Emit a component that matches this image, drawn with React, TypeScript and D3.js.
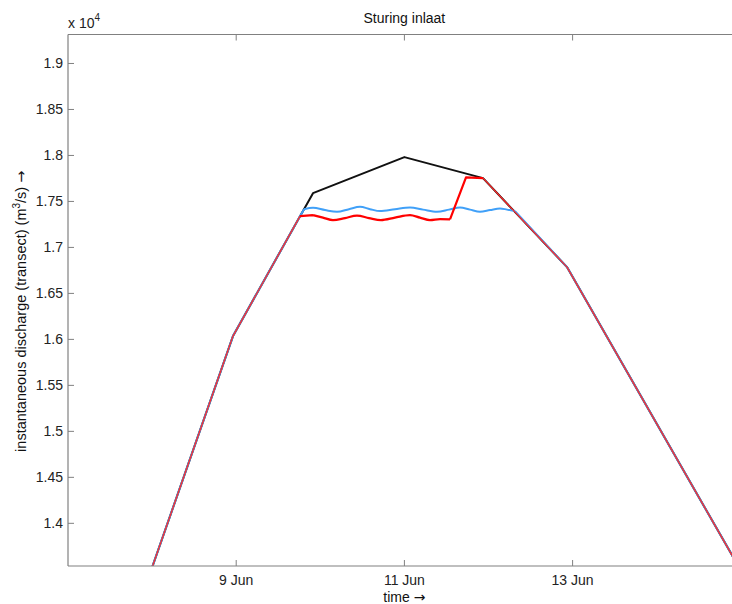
import React from "react";
import * as d3 from "d3";

// Sturing inlaat - discharge through transect
const parseTime = d3.timeParse("%Y-%m-%d %H:%M");

// shared rising limb (all three runs)
const riseTimes = ["2008-06-08 00:00", "2008-06-08 23:05", "2008-06-09 18:13"];
const riseValues = [13520, 16036, 17340];

// shared falling limb
const fallTimes = ["2008-06-11 22:26", "2008-06-12 22:24", "2008-06-14 21:29", "2008-06-15 00:00"];
const fallValues = [17753, 16786, 13655, 13471];

// black run (no control)
const blackTimes = ["2008-06-09 19:21", "2008-06-09 21:55", "2008-06-11 00:00"];
const blackValues = [17416, 17590, 17982];

// blue run
const blueTimes = [
  "2008-06-09 19:21", "2008-06-09 21:55", "2008-06-10 01:20", "2008-06-10 04:46", "2008-06-10 08:11",
  "2008-06-10 11:20", "2008-06-10 14:11", "2008-06-10 17:02", "2008-06-10 21:19", "2008-06-11 01:36",
  "2008-06-11 05:19", "2008-06-11 09:18", "2008-06-11 12:44", "2008-06-11 15:52", "2008-06-11 18:43",
  "2008-06-11 21:34", "2008-06-12 00:26", "2008-06-12 03:17", "2008-06-12 05:17", "2008-06-12 07:34",
];
const blueValues = [
  17416, 17431, 17406, 17387, 17416,
  17441, 17416, 17395, 17416, 17435,
  17411, 17387, 17411, 17435, 17411,
  17387, 17406, 17424, 17411, 17395,
];

// red run: wavy part, then step up
const redTimes = [
  "2008-06-09 21:55", "2008-06-10 00:46", "2008-06-10 03:37", "2008-06-10 07:03", "2008-06-10 10:28",
  "2008-06-10 13:54", "2008-06-10 17:19", "2008-06-10 21:19", "2008-06-11 01:36", "2008-06-11 04:27",
  "2008-06-11 07:18", "2008-06-11 10:10", "2008-06-11 13:01",
];
const redValues = [
  17351, 17324, 17297, 17319, 17346,
  17319, 17297, 17324, 17351, 17324,
  17297, 17308, 17304,
];
const redStepTimes = ["2008-06-11 17:35"];
const redStepValues = [17761];

const xTicks = ["2008-06-09 00:00", "2008-06-11 00:00", "2008-06-13 00:00"];
const yTicks = [14000, 14500, 15000, 15500, 16000, 16500, 17000, 17500, 18000, 18500, 19000];

type Pt = { t: Date; v: number };
const pts = (times: string[], values: number[]): Pt[] =>
  times.map((s, i) => ({ t: parseTime(s) as Date, v: values[i] }));

const rise = pts(riseTimes, riseValues);
const fall = pts(fallTimes, fallValues);
const riseEnd = rise[rise.length - 1];

const black = pts(blackTimes, blackValues);
const blue = pts(blueTimes, blueValues);
const redWave = pts(redTimes, redValues);
const redStep = pts(redStepTimes, redStepValues);

const App = () => {
  const W = 732;
  const H = 604;
  const left = 68;
  const top = 34.5;
  const bottom = 566;
  const right = 68 + 8 * 84.1;

  const x = d3
    .scaleTime()
    .domain([parseTime("2008-06-07 00:00") as Date, parseTime("2008-06-15 00:00") as Date])
    .range([left, right]);
  const y = d3.scaleLinear().domain([13536, 19315]).range([bottom, top]);

  const lin = d3
    .line<Pt>()
    .x((d) => x(d.t))
    .y((d) => y(d.v));
  const smooth = d3
    .line<Pt>()
    .x((d) => x(d.t))
    .y((d) => y(d.v))
    .curve(d3.curveMonotoneX);

  const font = "'Liberation Sans', Arial, Helvetica, sans-serif";
  const arrowFont = "'DejaVu Sans', sans-serif";
  const axisColor = "#808080";
  const fmt = d3.timeFormat("%-d %b");

  const blackD = lin([...rise, ...black, ...fall]) || "";
  const blueD =
    (lin([...rise, blue[0]]) || "") +
    (smooth(blue) || "") +
    (lin([blue[blue.length - 1], ...fall.slice(1)]) || "");
  const redWaveD = (lin([riseEnd, redWave[0]]) || "") + (smooth(redWave) || "");
  const redStepD = lin([redWave[redWave.length - 1], ...redStep, fall[0]]) || "";
  const redLimbs = (lin(rise) || "") + (lin(fall) || "");

  return (
    <svg
      width={W}
      height={H}
      style={{ position: "absolute", left: 0, top: 0, display: "block", background: "#fff" }}
      fontFamily={font}
    >
      <defs>
        <clipPath id="plot">
          <rect x={left} y={top} width={right - left} height={bottom - top} />
        </clipPath>
      </defs>

      <g clipPath="url(#plot)" fill="none" strokeLinejoin="round">
        <path d={blackD} stroke="#111" strokeWidth={2} />
        <path d={blueD} stroke="#40a0f8" strokeWidth={2} />
        <path d={redLimbs} stroke="#ff2a2a" strokeWidth={1.3} />
        <path d={redWaveD} stroke="#ff0000" strokeWidth={2.2} />
        <path d={redStepD} stroke="#ff0000" strokeWidth={2.2} />
      </g>

      {/* box */}
      <g stroke={axisColor} strokeWidth={1.2} fill="none">
        <line x1={left} x2={right} y1={top} y2={top} />
        <line x1={left} x2={right} y1={bottom} y2={bottom} />
        <line x1={left} x2={left} y1={top} y2={bottom} />
        <line x1={right} x2={right} y1={top} y2={bottom} />
      </g>

      {/* y ticks */}
      {yTicks.map((v) => (
        <g key={v}>
          <line x1={left} x2={left + 6} y1={y(v)} y2={y(v)} stroke={axisColor} />
          <line x1={right} x2={right - 6} y1={y(v)} y2={y(v)} stroke={axisColor} />
          <text x={left - 5} y={y(v) + 5} textAnchor="end" fontSize={14} fill="#222">
            {d3.format("~")(v / 10000)}
          </text>
        </g>
      ))}

      {/* x ticks */}
      {xTicks.map((s) => {
        const d = parseTime(s) as Date;
        return (
          <g key={s}>
            <line x1={x(d)} x2={x(d)} y1={bottom} y2={bottom - 6} stroke={axisColor} />
            <line x1={x(d)} x2={x(d)} y1={top} y2={top + 6} stroke={axisColor} />
            <text x={x(d)} y={bottom + 19} textAnchor="middle" fontSize={14} fill="#222">
              {fmt(d)}
            </text>
          </g>
        );
      })}

      {/* exponent */}
      <text x={left} y={28} fontSize={14} fill="#222">
        x 10
        <tspan dy={-7} fontSize={10}>4</tspan>
      </text>

      <text x={(left + right) / 2} y={23} textAnchor="middle" fontSize={14} fill="#111">
        Sturing inlaat
      </text>

      <text x={(left + right) / 2} y={602} textAnchor="middle" fontSize={14} fill="#111">
        time <tspan fontFamily={arrowFont}>→</tspan>
      </text>

      <text
        transform={`translate(26, ${(top + bottom) / 2 + 11}) rotate(-90)`}
        textAnchor="middle"
        fontSize={14.5}
        fill="#111"
      >
        instantaneous discharge (transect) (m
        <tspan dy={-6} fontSize={10}>3</tspan>
        <tspan dy={6}>/s) </tspan>
        <tspan fontFamily={arrowFont}>→</tspan>
      </text>
    </svg>
  );
};

export default App;
